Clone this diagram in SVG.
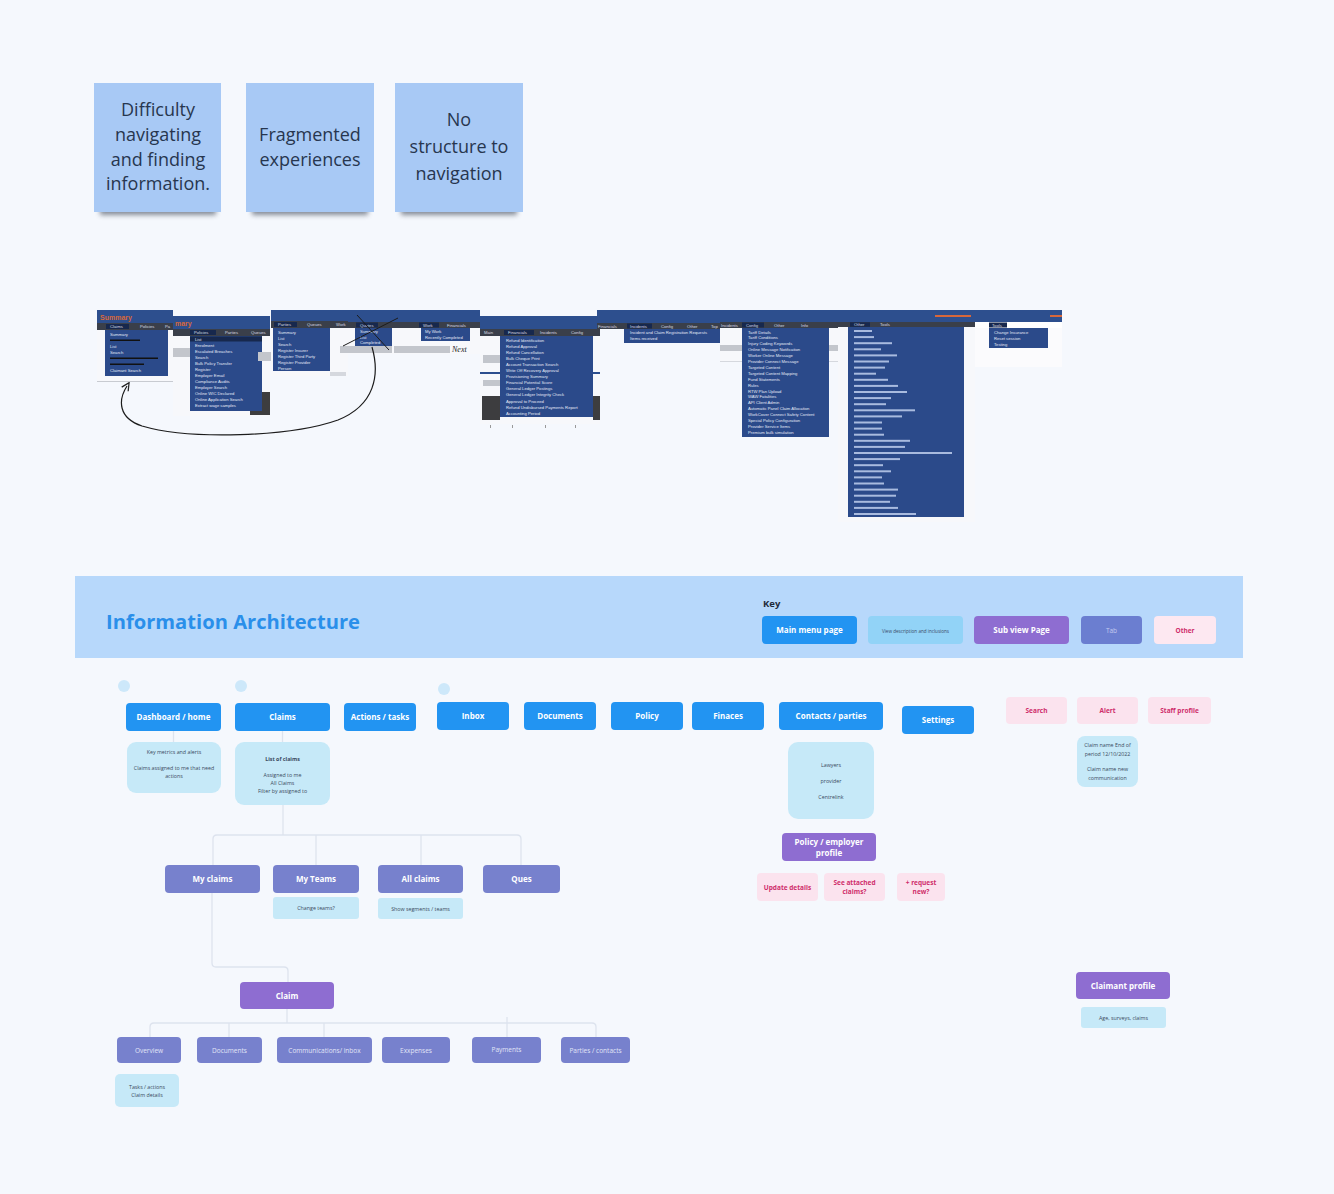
<svg xmlns="http://www.w3.org/2000/svg" width="1334" height="1194" viewBox="0 0 1334 1194">
<defs>
<filter id="blur" x="-20%" y="-200%" width="140%" height="500%"><feGaussianBlur stdDeviation="2.5"/></filter>
<marker id="arr" viewBox="0 0 10 10" refX="5" refY="5" markerWidth="8" markerHeight="8" orient="auto-start-reverse"><path d="M1,1 L9,5 L1,9" fill="none" stroke="#222" stroke-width="1.3"/></marker>
</defs>
<style>
.t{font-family:"Open Sans","Noto Sans","Liberation Sans",sans-serif}
.sticky{fill:#a8c9f5}
.stxt{font-family:"Open Sans","Noto Sans",sans-serif;font-size:18px;fill:#27364f;text-anchor:middle}
.main{fill:#2294f2}
.sub{fill:#8e6dd1}
.tab{fill:#7781cd}
.ktab{fill:#6b7ed0}
.desc{fill:#c6e9f8}
.oth{fill:#fbe3ee}
.lbl{font-family:"Open Sans","Noto Sans",sans-serif;font-size:8px;font-weight:bold;fill:#ffffff;text-anchor:middle}
.tlbl{font-family:"Open Sans","Noto Sans",sans-serif;font-size:6.5px;fill:#e1e5f7;text-anchor:middle}
.olbl{font-family:"Open Sans","Noto Sans",sans-serif;font-size:6.5px;font-weight:bold;fill:#cf2d6b;text-anchor:middle}
.dtxt{font-family:"Open Sans","Noto Sans",sans-serif;font-size:5.3px;fill:#3a4a60;text-anchor:middle}
.conn{fill:none;stroke:#dde3ee;stroke-width:1.3}
.bar{fill:#2d4f8e}
.mb{fill:#3a3f4a}
.dd{fill:#2b4a8a}
.hl{fill:#17284d}
.mi{font-family:"Liberation Sans",Arial,sans-serif;font-size:4.2px;fill:#e3e9f6}
.mh{font-family:"Liberation Sans",Arial,sans-serif;font-size:4.2px;fill:#d8dbe2}
.mbar{fill:#a9bbdf}
.gbtn{fill:#c3c6cc}
.pg{fill:#f7f8fb}
.dot{fill:#cde8fa}
</style>
<rect x="0" y="0" width="1334" height="1194" fill="#f5f8fd"/>

<!-- Sticky notes -->
<g id="note-difficulty">
<rect x="100" y="206" width="116" height="9" fill="#5f6774" opacity="0.75" filter="url(#blur)"/>
<rect class="sticky" x="94" y="83" width="127" height="129"/>
<text class="stxt" x="158" y="116">Difficulty</text>
<text class="stxt" x="158" y="141">navigating</text>
<text class="stxt" x="158" y="166">and finding</text>
<text class="stxt" x="158" y="190">information.</text>
</g>
<g id="note-fragmented">
<rect x="252" y="206" width="116" height="9" fill="#5f6774" opacity="0.75" filter="url(#blur)"/>
<rect class="sticky" x="246" y="83" width="128" height="129"/>
<text class="stxt" x="310" y="141">Fragmented</text>
<text class="stxt" x="310" y="166">experiences</text>
</g>
<g id="note-nostructure">
<rect x="401" y="206" width="116" height="9" fill="#5f6774" opacity="0.75" filter="url(#blur)"/>
<rect class="sticky" x="395" y="83" width="128" height="129"/>
<text class="stxt" x="459" y="126">No</text>
<text class="stxt" x="459" y="153">structure to</text>
<text class="stxt" x="459" y="180">navigation</text>
</g>

<!-- Screenshot strip of old menus -->
<g id="old-menus">
<!-- Piece A -->
<rect class="pg" x="97" y="310" width="76" height="72"/>
<rect class="bar" x="97" y="310" width="76" height="13"/>
<text x="100" y="320" font-family="Liberation Sans,Arial,sans-serif" font-size="7" font-weight="bold" fill="#d7673a">Summary</text>
<rect class="mb" x="97" y="323" width="76" height="7"/>
<rect class="hl" x="106" y="324" width="23" height="5"/>
<text class="mh" x="110" y="328">Claims</text>
<text class="mh" x="140" y="328">Policies</text>
<text class="mh" x="165" y="328">Pa</text>
<rect class="dd" x="105" y="330" width="63" height="46"/>
<text class="mi" x="110" y="336">Summary</text>
<rect x="110" y="339.5" width="30" height="1.5" fill="#111"/>
<text class="mi" x="110" y="348">List</text>
<text class="mi" x="110" y="354">Search</text>
<rect x="110" y="357.5" width="48" height="1.5" fill="#111"/>
<rect x="110" y="363.5" width="34" height="1.5" fill="#111"/>
<text class="mi" x="110" y="372">Claimant Search</text>
<rect x="97" y="381" width="76" height="1" fill="#c8cbd1"/>
<!-- Piece B -->
<rect class="pg" x="173" y="316" width="97" height="100"/>
<rect class="bar" x="173" y="316" width="97" height="13"/>
<text x="175" y="326" font-family="Liberation Sans,Arial,sans-serif" font-size="7" font-weight="bold" fill="#d7673a">mary</text>
<rect class="mb" x="173" y="329" width="97" height="7"/>
<rect class="hl" x="190" y="330" width="26" height="5"/>
<text class="mh" x="194" y="334">Policies</text>
<text class="mh" x="225" y="334">Parties</text>
<text class="mh" x="251" y="334">Queues</text>
<rect class="gbtn" x="173" y="348" width="17" height="9"/>
<rect x="250" y="392" width="20" height="23" fill="#3d3d3f"/>
<rect class="dd" x="190" y="336" width="72" height="75"/>
<rect class="hl" x="190" y="336.5" width="72" height="5"/>
<text class="mi" x="195" y="340.5">List</text>
<text class="mi" x="195" y="346.5">Enrolment</text>
<text class="mi" x="195" y="352.5">Escalated Breaches</text>
<text class="mi" x="195" y="358.5">Search</text>
<text class="mi" x="195" y="364.5">Bulk Policy Transfer</text>
<text class="mi" x="195" y="370.5">Register</text>
<text class="mi" x="195" y="376.5">Employer Email</text>
<text class="mi" x="195" y="382.5">Compliance Audits</text>
<text class="mi" x="195" y="388.5">Employer Search</text>
<text class="mi" x="195" y="394.5">Online WIC Declared</text>
<text class="mi" x="195" y="400.5">Online Application Search</text>
<text class="mi" x="195" y="406.5">Extract wage samples</text>
<!-- Piece C -->
<rect class="pg" x="271" y="310" width="77" height="66"/>
<rect class="bar" x="271" y="310" width="77" height="11"/>
<rect class="mb" x="271" y="321" width="77" height="7"/>
<rect class="hl" x="274" y="322" width="23" height="5"/>
<text class="mh" x="278" y="326">Parties</text>
<text class="mh" x="307" y="326">Queues</text>
<text class="mh" x="336" y="326">Work</text>
<rect class="gbtn" x="258" y="352" width="13" height="9"/>
<rect class="dd" x="273" y="328" width="57" height="43"/>
<text class="mi" x="278" y="333.5">Summary</text>
<text class="mi" x="278" y="339.5">List</text>
<text class="mi" x="278" y="345.5">Search</text>
<text class="mi" x="278" y="351.5">Register Insurer</text>
<text class="mi" x="278" y="357.5">Register Third Party</text>
<text class="mi" x="278" y="363.5">Register Provider</text>
<text class="mi" x="278" y="369.5">Person</text>
<rect x="330" y="372" width="16" height="4" fill="#d5d8de"/>
<!-- Piece D -->
<rect class="pg" x="348" y="310" width="132" height="44"/>
<rect class="bar" x="348" y="310" width="132" height="12"/>
<rect class="mb" x="348" y="322" width="132" height="6"/>
<rect class="hl" x="356" y="322.5" width="22" height="5"/>
<text class="mh" x="360" y="326.5">Quotes</text>
<rect class="hl" x="419" y="322.5" width="20" height="5"/>
<text class="mh" x="423" y="326.5">Work</text>
<text class="mh" x="447" y="326.5">Financials</text>
<rect class="gbtn" x="340" y="346" width="52" height="7"/>
<rect class="gbtn" x="394" y="346" width="12" height="7"/>
<rect class="gbtn" x="404" y="346" width="24" height="7"/>
<rect class="gbtn" x="428" y="346" width="22" height="7"/>
<rect class="dd" x="355" y="328" width="37" height="18"/>
<text class="mi" x="360" y="333">Summary</text>
<text class="mi" x="360" y="338.5">List</text>
<text class="mi" x="360" y="344">Completed</text>
<rect class="dd" x="421" y="328" width="49" height="13"/>
<text class="mi" x="425" y="333">My Work</text>
<text class="mi" x="425" y="339">Recently Completed</text>
<!-- Piece E -->
<rect class="pg" x="480" y="316" width="120" height="108"/>
<rect class="bar" x="480" y="316" width="120" height="13"/>
<rect class="mb" x="480" y="329" width="120" height="7"/>
<text class="mh" x="484" y="334">Main</text>
<rect class="hl" x="504" y="330" width="30" height="5"/>
<text class="mh" x="508" y="334">Financials</text>
<text class="mh" x="540" y="334">Incidents</text>
<text class="mh" x="571" y="334">Config</text>
<rect class="gbtn" x="483" y="355" width="18" height="8"/>
<rect x="480" y="372" width="120" height="2" fill="#2d4f8e"/>
<rect class="gbtn" x="483" y="380" width="17" height="6"/>
<rect x="482" y="396" width="18" height="24" fill="#3d3d3f"/>
<rect x="593" y="396" width="7" height="24" fill="#3d3d3f"/>
<rect class="dd" x="500" y="336" width="93" height="81"/>
<text class="mi" x="506" y="341.5">Refund Identification</text>
<text class="mi" x="506" y="347.6">Refund Approval</text>
<text class="mi" x="506" y="353.7">Refund Cancellation</text>
<text class="mi" x="506" y="359.8">Bulk Cheque Print</text>
<text class="mi" x="506" y="365.9">Account Transaction Search</text>
<text class="mi" x="506" y="372">Write Off Recovery Approval</text>
<text class="mi" x="506" y="378.1">Provisioning Summary</text>
<text class="mi" x="506" y="384.2">Financial Potential Score</text>
<text class="mi" x="506" y="390.3">General Ledger Postings</text>
<text class="mi" x="506" y="396.4">General Ledger Integrity Check</text>
<text class="mi" x="506" y="402.5">Approval to Proceed</text>
<text class="mi" x="506" y="408.6">Refund Undisbursed Payments Report</text>
<text class="mi" x="506" y="414.7">Accounting Period</text>
<rect x="490" y="425" width="1" height="3" fill="#999"/>
<rect x="512" y="425" width="1" height="3" fill="#999"/>
<rect x="545" y="425" width="1" height="3" fill="#999"/>
<rect x="575" y="425" width="1" height="3" fill="#999"/>
<!-- Piece F -->
<rect class="bar" x="597" y="310" width="123" height="13"/>
<rect class="mb" x="597" y="323" width="123" height="6"/>
<text class="mh" x="598" y="327.5">Financials</text>
<rect class="hl" x="627" y="323.5" width="25" height="5"/>
<text class="mh" x="630" y="327.5">Incidents</text>
<text class="mh" x="661" y="327.5">Config</text>
<text class="mh" x="687" y="327.5">Other</text>
<text class="mh" x="711" y="327.5">Top</text>
<rect class="dd" x="624" y="329" width="96" height="14"/>
<text class="mi" x="630" y="334">Incident and Claim Registration Requests</text>
<text class="mi" x="630" y="340">Items received</text>
<!-- Piece G -->
<rect class="pg" x="720" y="322" width="118" height="40"/>
<rect class="bar" x="720" y="310" width="118" height="12"/>
<rect class="mb" x="720" y="322" width="118" height="6"/>
<text class="mh" x="721" y="326.5">Incidents</text>
<rect class="hl" x="742" y="322.5" width="22" height="5"/>
<text class="mh" x="746" y="326.5">Config</text>
<text class="mh" x="774" y="326.5">Other</text>
<text class="mh" x="801" y="326.5">Info</text>
<rect class="gbtn" x="720" y="345" width="118" height="6"/>
<rect x="720" y="361" width="118" height="1" fill="#d5d8de"/>
<rect class="dd" x="742" y="328" width="87" height="109"/>
<text class="mi" x="748" y="333.5">Tariff Details</text>
<text class="mi" x="748" y="339.4">Tariff Conditions</text>
<text class="mi" x="748" y="345.3">Injury Coding Keywords</text>
<text class="mi" x="748" y="351.2">Online Message Notification</text>
<text class="mi" x="748" y="357.1">Worker Online Message</text>
<text class="mi" x="748" y="363">Provider Connect Message</text>
<text class="mi" x="748" y="368.9">Targeted Content</text>
<text class="mi" x="748" y="374.8">Targeted Content Mapping</text>
<text class="mi" x="748" y="380.7">Fund Statements</text>
<text class="mi" x="748" y="386.6">Rules</text>
<text class="mi" x="748" y="392.5">RTW Plan Upload</text>
<text class="mi" x="748" y="398.4">WAW Fatalities</text>
<text class="mi" x="748" y="404.3">API Client Admin</text>
<text class="mi" x="748" y="410.2">Automatic Panel Claim Allocation</text>
<text class="mi" x="748" y="416.1">WorkCover Connect Safety Content</text>
<text class="mi" x="748" y="422">Special Policy Configuration</text>
<text class="mi" x="748" y="427.9">Provider Service Items</text>
<text class="mi" x="748" y="433.8">Premium bulk simulation</text>
<!-- Piece H -->
<rect class="pg" x="838" y="322" width="137" height="200"/>
<rect class="bar" x="838" y="310" width="137" height="12"/>
<rect x="935" y="315" width="36" height="2" fill="#d7673a"/>
<rect class="mb" x="838" y="322" width="137" height="5"/>
<rect class="hl" x="850" y="322.3" width="20" height="4.5"/>
<text class="mh" x="854" y="326">Other</text>
<text class="mh" x="880" y="326">Tools</text>
<rect class="dd" x="848" y="327" width="116" height="190"/>
<g class="mbar">
<rect x="854" y="330" width="18" height="2"/><rect x="854" y="336.1" width="20" height="2"/><rect x="854" y="342.2" width="38" height="2"/><rect x="854" y="348.3" width="27" height="2"/><rect x="854" y="354.4" width="43" height="2"/><rect x="854" y="360.5" width="35" height="2"/><rect x="854" y="366.6" width="31" height="2"/><rect x="854" y="372.7" width="22" height="2"/><rect x="854" y="378.8" width="34" height="2"/><rect x="854" y="384.9" width="44" height="2"/><rect x="854" y="391" width="53" height="2"/><rect x="854" y="397.1" width="37" height="2"/><rect x="854" y="403.2" width="32" height="2"/><rect x="854" y="409.3" width="61" height="2"/><rect x="854" y="415.4" width="48" height="2"/><rect x="854" y="421.5" width="28" height="2"/><rect x="854" y="427.6" width="28" height="2"/><rect x="854" y="433.7" width="30" height="2"/><rect x="854" y="439.8" width="56" height="2"/><rect x="854" y="445.9" width="51" height="2"/><rect x="854" y="452" width="98" height="2"/><rect x="854" y="458.1" width="46" height="2"/><rect x="854" y="464.2" width="29" height="2"/><rect x="854" y="470.3" width="37" height="2"/><rect x="854" y="476.4" width="28" height="2"/><rect x="854" y="482.5" width="30" height="2"/><rect x="854" y="488.6" width="44" height="2"/><rect x="854" y="494.7" width="42" height="2"/><rect x="854" y="500.8" width="36" height="2"/><rect x="854" y="506.9" width="44" height="2"/><rect x="854" y="513" width="62" height="2"/>
</g>
<!-- Piece I -->
<rect x="975" y="322" width="87" height="45" fill="#fbfbfd"/>
<rect class="bar" x="975" y="310" width="87" height="12"/>
<rect x="1050" y="315" width="12" height="2" fill="#d7673a"/>
<rect x="975" y="322" width="87" height="6" fill="#ffffff"/>
<rect class="hl" x="989" y="322.5" width="18" height="5"/>
<text class="mh" x="992" y="326.5">Tools</text>
<rect class="dd" x="989" y="328" width="59" height="20"/>
<text class="mi" x="994" y="333.5">Change Insurance</text>
<text class="mi" x="994" y="339.5">Reset session</text>
<text class="mi" x="994" y="345.5">Testing</text>
<!-- annotations -->
<path d="M357,315 L389,350" fill="none" stroke="#1c1c1c" stroke-width="1"/>
<path d="M398,318 L343,346" fill="none" stroke="#1c1c1c" stroke-width="1"/>
<path d="M372,347 C380,375 375,405 338,420 C290,437 190,440 142,426 C118,418 118,400 127,386" fill="none" stroke="#1c1c1c" stroke-width="1.2" marker-end="url(#arr)"/>
<text x="452" y="352" font-family="Liberation Serif,serif" font-style="italic" font-size="8" fill="#1c1c1c">Next</text>
</g>

<!-- Header band -->
<g id="header">
<rect x="75" y="576" width="1168" height="82" fill="#b7d8fb"/>
<text class="t" x="106" y="629" font-size="19.5" font-weight="bold" fill="#2a8fea" textLength="254" lengthAdjust="spacingAndGlyphs">Information Architecture</text>
<text class="t" x="763" y="607" font-size="9.5" font-weight="bold" fill="#1f2a3a">Key</text>
</g>
<g id="key-main"><rect class="main" x="762" y="616" width="95" height="28" rx="4"/><text class="lbl" x="809.5" y="633">Main menu page</text></g>
<g id="key-desc"><rect x="868" y="616" width="95" height="28" rx="4" fill="#92d3f7"/><text class="t" x="915.5" y="632.5" font-size="4.6" fill="#3a4a66" text-anchor="middle">View description and inclusions</text></g>
<g id="key-sub"><rect class="sub" x="974" y="616" width="95" height="28" rx="4"/><text class="lbl" x="1021.5" y="633">Sub view Page</text></g>
<g id="key-tab"><rect class="ktab" x="1081" y="616" width="61" height="28" rx="4"/><text class="t" x="1111.5" y="632.5" font-size="6.5" fill="#c4cbef" text-anchor="middle">Tab</text></g>
<g id="key-other"><rect x="1154" y="616" width="62" height="28" rx="4" fill="#fde8f1"/><text class="olbl" x="1185" y="633">Other</text></g>

<!-- Connectors -->
<g id="connectors">
<path class="conn" d="M173.5,731 V742"/>
<path class="conn" d="M282.5,731 V742"/>
<path class="conn" d="M283,805 V835"/>
<path class="conn" d="M217,835 H517 Q521,835 521,839 V865"/>
<path class="conn" d="M217,835 Q213,835 213,839 V865"/>
<path class="conn" d="M316,835 V865"/>
<path class="conn" d="M421,835 V865"/>
<path class="conn" d="M212,893 V963 Q212,967 216,967 H284 Q288,967 288,971 V982"/>
<path class="conn" d="M287,1009 V1023"/>
<path class="conn" d="M154,1023 H592 Q596,1023 596,1027 V1037"/>
<path class="conn" d="M154,1023 Q150,1023 150,1027 V1037"/>
<path class="conn" d="M229,1023 V1037"/>
<path class="conn" d="M324,1023 V1037"/>
<path class="conn" d="M507,1017 V1037"/>
</g>

<!-- Dots -->
<circle class="dot" cx="124" cy="686" r="6"/>
<circle class="dot" cx="241" cy="686" r="6"/>
<circle class="dot" cx="444" cy="689" r="6"/>

<!-- Main menu nodes -->
<g id="n-dashboard"><rect class="main" x="126" y="703" width="95" height="28" rx="4"/><text class="lbl" x="173.5" y="720">Dashboard / home</text></g>
<g id="n-claims"><rect class="main" x="235" y="703" width="95" height="28" rx="4"/><text class="lbl" x="282.5" y="720">Claims</text></g>
<g id="n-actions"><rect class="main" x="344" y="703" width="72" height="28" rx="4"/><text class="lbl" x="380" y="720">Actions / tasks</text></g>
<g id="n-inbox"><rect class="main" x="437" y="702" width="72" height="28" rx="4"/><text class="lbl" x="473" y="719">Inbox</text></g>
<g id="n-documents"><rect class="main" x="524" y="702" width="72" height="28" rx="4"/><text class="lbl" x="560" y="719">Documents</text></g>
<g id="n-policy"><rect class="main" x="611" y="702" width="72" height="28" rx="4"/><text class="lbl" x="647" y="719">Policy</text></g>
<g id="n-finaces"><rect class="main" x="692" y="702" width="72" height="28" rx="4"/><text class="lbl" x="728" y="719">Finaces</text></g>
<g id="n-contacts"><rect class="main" x="779" y="702" width="104" height="28" rx="4"/><text class="lbl" x="831" y="719">Contacts / parties</text></g>
<g id="n-settings"><rect class="main" x="902" y="706" width="72" height="28" rx="4"/><text class="lbl" x="938" y="723">Settings</text></g>

<!-- Descriptions -->
<g id="d-dashboard"><rect class="desc" x="127" y="742" width="94" height="51" rx="9"/>
<text class="dtxt" x="174" y="754">Key metrics and alerts</text>
<text class="dtxt" x="174" y="770">Claims assigned to me that need</text>
<text class="dtxt" x="174" y="778">actions</text></g>
<g id="d-claims"><rect class="desc" x="235" y="742" width="95" height="63" rx="9"/>
<text class="dtxt" x="282.5" y="761" font-weight="bold" fill="#1f2a3a">List of claims</text>
<text class="dtxt" x="282.5" y="777">Assigned to me</text>
<text class="dtxt" x="282.5" y="785">All Claims</text>
<text class="dtxt" x="282.5" y="793">Filter by assigned to</text></g>
<g id="d-contacts"><rect class="desc" x="788" y="742" width="86" height="77" rx="10"/>
<text class="dtxt" x="831" y="767">Lawyers</text>
<text class="dtxt" x="831" y="783">provider</text>
<text class="dtxt" x="831" y="799">Centrelink</text></g>

<!-- Contacts sub -->
<g id="n-policy-employer"><rect class="sub" x="782" y="833" width="94" height="28" rx="4"/><text class="lbl" x="829" y="844.5">Policy / employer</text><text class="lbl" x="829" y="855.5">profile</text></g>
<g id="o-update"><rect class="oth" x="757" y="873" width="61" height="28" rx="4"/><text class="olbl" x="787.5" y="890">Update details</text></g>
<g id="o-attached"><rect class="oth" x="824" y="873" width="61" height="28" rx="4"/><text class="olbl" x="854.5" y="885">See attached</text><text class="olbl" x="854.5" y="894">claims?</text></g>
<g id="o-request"><rect class="oth" x="897" y="873" width="48" height="28" rx="4"/><text class="olbl" x="921" y="885">+ request</text><text class="olbl" x="921" y="894">new?</text></g>

<!-- Right side -->
<g id="o-search"><rect class="oth" x="1006" y="697" width="61" height="27" rx="4"/><text class="olbl" x="1036.5" y="713">Search</text></g>
<g id="o-alert"><rect class="oth" x="1077" y="697" width="61" height="27" rx="4"/><text class="olbl" x="1107.5" y="713">Alert</text></g>
<g id="o-staff"><rect class="oth" x="1148" y="697" width="63" height="27" rx="4"/><text class="olbl" x="1179.5" y="713">Staff profile</text></g>
<g id="d-alert"><rect class="desc" x="1077" y="736" width="61" height="51" rx="8"/>
<text class="dtxt" x="1107.5" y="747">Claim name End of</text>
<text class="dtxt" x="1107.5" y="755.5">period 12/10/2022</text>
<text class="dtxt" x="1107.5" y="771">Claim name new</text>
<text class="dtxt" x="1107.5" y="779.5">communication</text></g>
<g id="n-claimant"><rect class="sub" x="1076" y="972" width="94" height="27" rx="4"/><text class="lbl" x="1123" y="988.5">Claimant profile</text></g>
<g id="d-claimant"><rect class="desc" x="1081" y="1007" width="85" height="21" rx="3"/><text class="dtxt" x="1123.5" y="1019.5">Age, surveys, claims</text></g>

<!-- Claims sub views -->
<g id="n-myclaims"><rect class="tab" x="165" y="865" width="95" height="28" rx="4"/><text class="lbl" x="212.5" y="882">My claims</text></g>
<g id="n-myteams"><rect class="tab" x="273" y="865" width="86" height="28" rx="4"/><text class="lbl" x="316" y="882">My Teams</text></g>
<g id="n-allclaims"><rect class="tab" x="378" y="865" width="85" height="28" rx="4"/><text class="lbl" x="420.5" y="882">All claims</text></g>
<g id="n-ques"><rect class="tab" x="483" y="865" width="77" height="28" rx="4"/><text class="lbl" x="521.5" y="882">Ques</text></g>
<g id="d-myteams"><rect class="desc" x="273" y="897" width="86" height="22" rx="3"/><text class="dtxt" x="316" y="910">Change teams?</text></g>
<g id="d-allclaims"><rect class="desc" x="378" y="898" width="85" height="21" rx="3"/><text class="dtxt" x="420.5" y="911">Show segments / teams</text></g>

<!-- Claim -->
<g id="n-claim"><rect class="sub" x="240" y="982" width="94" height="27" rx="4"/><text class="lbl" x="287" y="998.5">Claim</text></g>
<g id="t-overview"><rect class="tab" x="117" y="1037" width="64" height="26" rx="4"/><text class="tlbl" x="149" y="1052.5">Overview</text></g>
<g id="t-documents"><rect class="tab" x="197" y="1037" width="65" height="26" rx="4"/><text class="tlbl" x="229.5" y="1052.5">Documents</text></g>
<g id="t-comms"><rect class="tab" x="277" y="1037" width="95" height="26" rx="4"/><text class="tlbl" x="324.5" y="1052.5">Communications/ inbox</text></g>
<g id="t-expenses"><rect class="tab" x="382" y="1037" width="68" height="26" rx="4"/><text class="tlbl" x="416" y="1052.5">Exxpenses</text></g>
<g id="t-payments"><rect class="tab" x="472" y="1037" width="69" height="26" rx="4"/><text class="tlbl" x="506.5" y="1051.5">Payments</text></g>
<g id="t-parties"><rect class="tab" x="561" y="1037" width="69" height="26" rx="4"/><text class="tlbl" x="595.5" y="1052.5">Parties / contacts</text></g>
<g id="d-overview"><rect class="desc" x="115" y="1074" width="64" height="33" rx="5"/><text class="dtxt" x="147" y="1089">Tasks / actions</text><text class="dtxt" x="147" y="1097">Claim details</text></g>
</svg>
